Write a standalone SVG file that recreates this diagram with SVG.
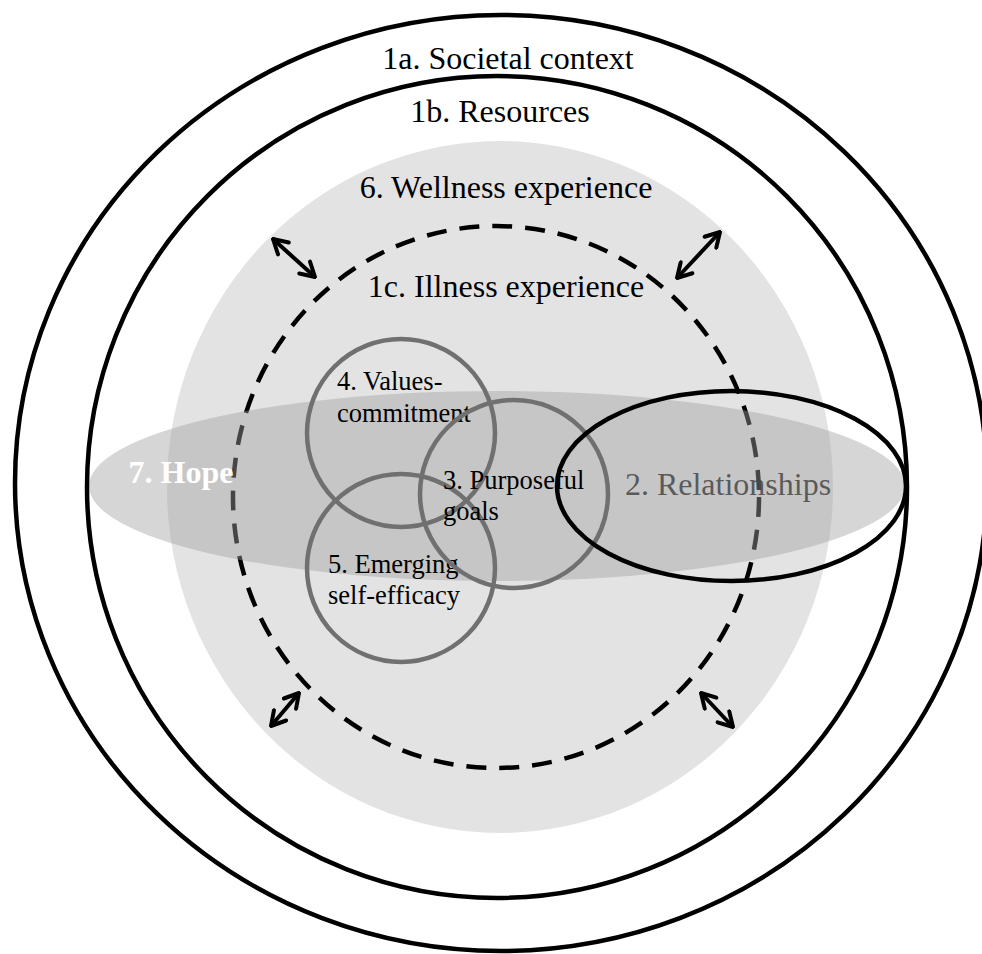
<svg xmlns="http://www.w3.org/2000/svg" width="982" height="954" viewBox="0 0 982 954">
  <defs>
    <style>
      .ring { fill: none; stroke: #000; stroke-width: 4.5; }
      .small { fill: none; stroke: #707070; stroke-width: 4.5; }
      .lbl { font-family: "Liberation Serif", "Times New Roman", serif; font-size: 32px; fill: #000; text-anchor: middle; }
      .sm { font-family: "Liberation Serif", "Times New Roman", serif; font-size: 26.5px; fill: #000; }
      .arr { fill: none; stroke: #000; stroke-width: 4; marker-start: url(#head); marker-end: url(#head); }
    </style>
    <marker id="head" viewBox="0 0 20 20" refX="18" refY="10" markerWidth="20" markerHeight="20" markerUnits="userSpaceOnUse" orient="auto-start-reverse">
      <polyline points="4,2 18,10 4,18" fill="none" stroke="#000" stroke-width="4" stroke-linecap="round" stroke-linejoin="round"/>
    </marker>
  </defs>
  <rect width="982" height="954" fill="#fff"/>

  <g id="wellness">
    <ellipse cx="500" cy="487" rx="333" ry="346" fill="#e3e3e3"/>
    <text class="lbl" x="506" y="198">6. Wellness experience</text>
  </g>

  <g id="relationships-label">
    <text class="lbl" x="728" y="495" fill="#262626" style="fill:#262626">2. Relationships</text>
  </g>

  <g id="illness">
    <ellipse cx="496" cy="497" rx="263" ry="271" fill="none" stroke="#000" stroke-width="4.5" stroke-dasharray="20 13"/>
    <text class="lbl" x="506" y="297">1c. Illness experience</text>
  </g>

  <g id="hope">
    <ellipse cx="497" cy="486" rx="408" ry="95" fill="#a0a0a0" fill-opacity="0.43"/>
    <text x="181" y="483" font-family="Liberation Serif, Times New Roman, serif" font-size="32" font-weight="bold" fill="#fff" text-anchor="middle">7. Hope</text>
  </g>

  <g id="societal">
    <ellipse class="ring" cx="501" cy="483" rx="486" ry="468"/>
    <text class="lbl" x="508" y="69">1a. Societal context</text>
  </g>

  <g id="resources">
    <ellipse class="ring" cx="497" cy="487" rx="410" ry="411"/>
    <text class="lbl" x="500" y="122">1b. Resources</text>
  </g>

  <g id="values">
    <circle class="small" cx="401" cy="433" r="94"/>
    <text class="sm" x="337" y="390">4. Values-</text>
    <text class="sm" x="337" y="422">commitment</text>
  </g>

  <g id="efficacy">
    <circle class="small" cx="401" cy="568" r="94"/>
    <text class="sm" x="328" y="573">5. Emerging</text>
    <text class="sm" x="328" y="604">self-efficacy</text>
  </g>

  <g id="goals">
    <circle class="small" cx="514" cy="494" r="94"/>
    <text class="sm" x="443" y="489">3. Purposeful</text>
    <text class="sm" x="443" y="520">goals</text>
  </g>

  <g id="relationships">
    <ellipse cx="731.5" cy="486" rx="174.5" ry="95" fill="none" stroke="#000" stroke-width="4.5"/>
  </g>

  <g id="connectors">
    <line class="arr" x1="273" y1="239" x2="315" y2="277"/>
    <line class="arr" x1="720" y1="232" x2="677" y2="278"/>
    <line class="arr" x1="299" y1="693" x2="271" y2="726"/>
    <line class="arr" x1="701" y1="693" x2="733" y2="727"/>
  </g>
</svg>
